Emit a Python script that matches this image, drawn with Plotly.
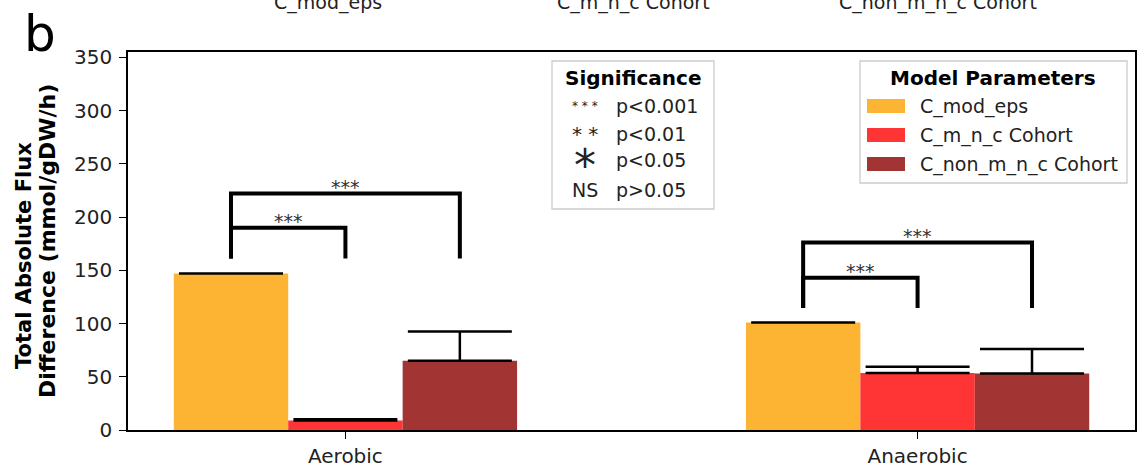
import plotly.graph_objects as go

# ---- data -------------------------------------------------------------
conditions = ["Aerobic", "Anaerobic"]
models = ["C_mod_eps", "C_m_n_c Cohort", "C_non_m_n_c Cohort"]
model_colors = ["#FDB432", "#FF3434", "#A23434"]

flux_mod_eps = [147, 101]
flux_mnc = [9, 53.5]
flux_non_mnc = [65, 53]
err_mod_eps = [0, 0]
err_mnc = [1, 6]
err_non_mnc = [27.5, 23]

# significance brackets (x positions in axis units, heights in flux units)
bracket_x0 = [-0.2, -0.2, 0.8, 0.8]
bracket_x1 = [0.0, 0.2, 1.0, 1.2]
bracket_top = [190, 222, 143, 176]
bracket_base = [161, 161, 114.5, 114.5]
bracket_label = ["***", "***", "***", "***"]

sig_symbols = ["* * *", "* *", "*", "NS"]
sig_symbol_sizes = [12, 20, 44, 19]
sig_labels = ["p<0.001", "p<0.01", "p<0.05", "p>0.05"]

y_ticks = [0, 50, 100, 150, 200, 250, 300, 350]

# ---- geometry helpers (pixel -> paper) --------------------------------
W, H = 1144, 471
L, R, T, B = 128, 9, 52, 41
PW, PH = W - L - R, H - T - B


def px(x):
    return (x - L) / PW


def py(y):
    return (H - B - y) / PH


FONT = "DejaVu Sans"
TXT = "#222222"


def note(x, y, text, size, color=TXT, xanchor="center", yanchor="middle", **kw):
    fig.add_annotation(xref="paper", yref="paper", x=px(x), y=py(y), text=text,
                       showarrow=False, xanchor=xanchor, yanchor=yanchor,
                       font=dict(family=FONT, size=size, color=color), **kw)


fig = go.Figure()

series = [flux_mod_eps, flux_mnc, flux_non_mnc]
errors = [err_mod_eps, err_mnc, err_non_mnc]
for i, (name, vals, errs, col) in enumerate(zip(models, series, errors, model_colors)):
    fig.add_trace(go.Bar(
        x=[0, 1], y=vals, name=name,
        offset=-0.3 + 0.2 * i, width=0.2,
        marker=dict(color=col, line=dict(width=0)),
        error_y=dict(type="data", symmetric=False, array=errs,
                     arrayminus=[0, 0], color="black", thickness=2.5, width=52),
        showlegend=False,
    ))

# brackets with significance stars
for x0, x1, top, base, lab in zip(bracket_x0, bracket_x1, bracket_top, bracket_base, bracket_label):
    fig.add_trace(go.Scatter(
        x=[x0, x0, x1, x1], y=[base, top, top, base], mode="lines",
        line=dict(color="black", width=4), showlegend=False, hoverinfo="skip",
    ))
    fig.add_annotation(x=(x0 + x1) / 2, y=top, text=lab, showarrow=False,
                       yanchor="middle", yshift=7,
                       font=dict(family=FONT, size=19, color="#333333"))

# ---- significance key box ---------------------------------------------
fig.add_shape(type="rect", xref="paper", yref="paper",
              x0=px(552), x1=px(714), y0=py(61), y1=py(209),
              line=dict(color="#cccccc", width=1.3), fillcolor="rgba(255,255,255,0.85)")
note(633, 78, "<b>Significance</b>", 20, color="black")
row_y = [106, 134, 160, 190]
sym_y = [103, 128, 153, 190]
for sym, ssz, lab, yy, sy in zip(sig_symbols, sig_symbol_sizes, sig_labels, row_y, sym_y):
    off = 0.29 * ssz if sym != "NS" else 0
    note(585, sy + off, sym, ssz)
    note(614, yy, lab, 19, xanchor="left")

# ---- model legend box -------------------------------------------------
fig.add_shape(type="rect", xref="paper", yref="paper",
              x0=px(860), x1=px(1127), y0=py(61), y1=py(183),
              line=dict(color="#cccccc", width=1.3), fillcolor="rgba(255,255,255,0.85)")
note(993, 78, "<b>Model Parameters</b>", 20, color="black")
leg_y = [106, 135, 164]
for name, col, yy in zip(models, model_colors, leg_y):
    fig.add_shape(type="rect", xref="paper", yref="paper",
                  x0=px(867), x1=px(905), y0=py(yy + 7), y1=py(yy - 7),
                  line=dict(width=0), fillcolor=col)
    note(918, yy, name, 19, xanchor="left")

# ---- labels outside the axes ------------------------------------------
note(22, 34, "b", 50, color="black", xanchor="left")
for name, cx in zip(models, [328, 633, 938]):
    note(cx, 2.5, name, 19)
note(24, 256, "<b>Total Absolute Flux</b>", 21, color="black", textangle=-90)
note(47, 241, "<b>Difference (mmol/gDW/h)</b>", 22, color="black", textangle=-90)

axis_common = dict(showline=True, linecolor="black", linewidth=1.5, mirror=True,
                   ticks="outside", ticklen=7, tickwidth=1.3, tickcolor="black",
                   showgrid=False, zeroline=False, automargin=False,
                   tickfont=dict(family=FONT, size=20, color=TXT))

fig.update_layout(
    width=W, height=H,
    margin=dict(l=L, r=R, t=T, b=B, pad=0, autoexpand=False),
    paper_bgcolor="white", plot_bgcolor="white",
    barmode="overlay", showlegend=False,
    font=dict(family=FONT),
    xaxis=dict(range=[-0.38, 1.38], tickvals=[0, 1], ticktext=conditions,
               ticklabelstandoff=0, **axis_common),
    yaxis=dict(range=[0, 355], tickvals=y_ticks, ticklabelstandoff=3, **axis_common),
)

fig.write_html("out.html")
